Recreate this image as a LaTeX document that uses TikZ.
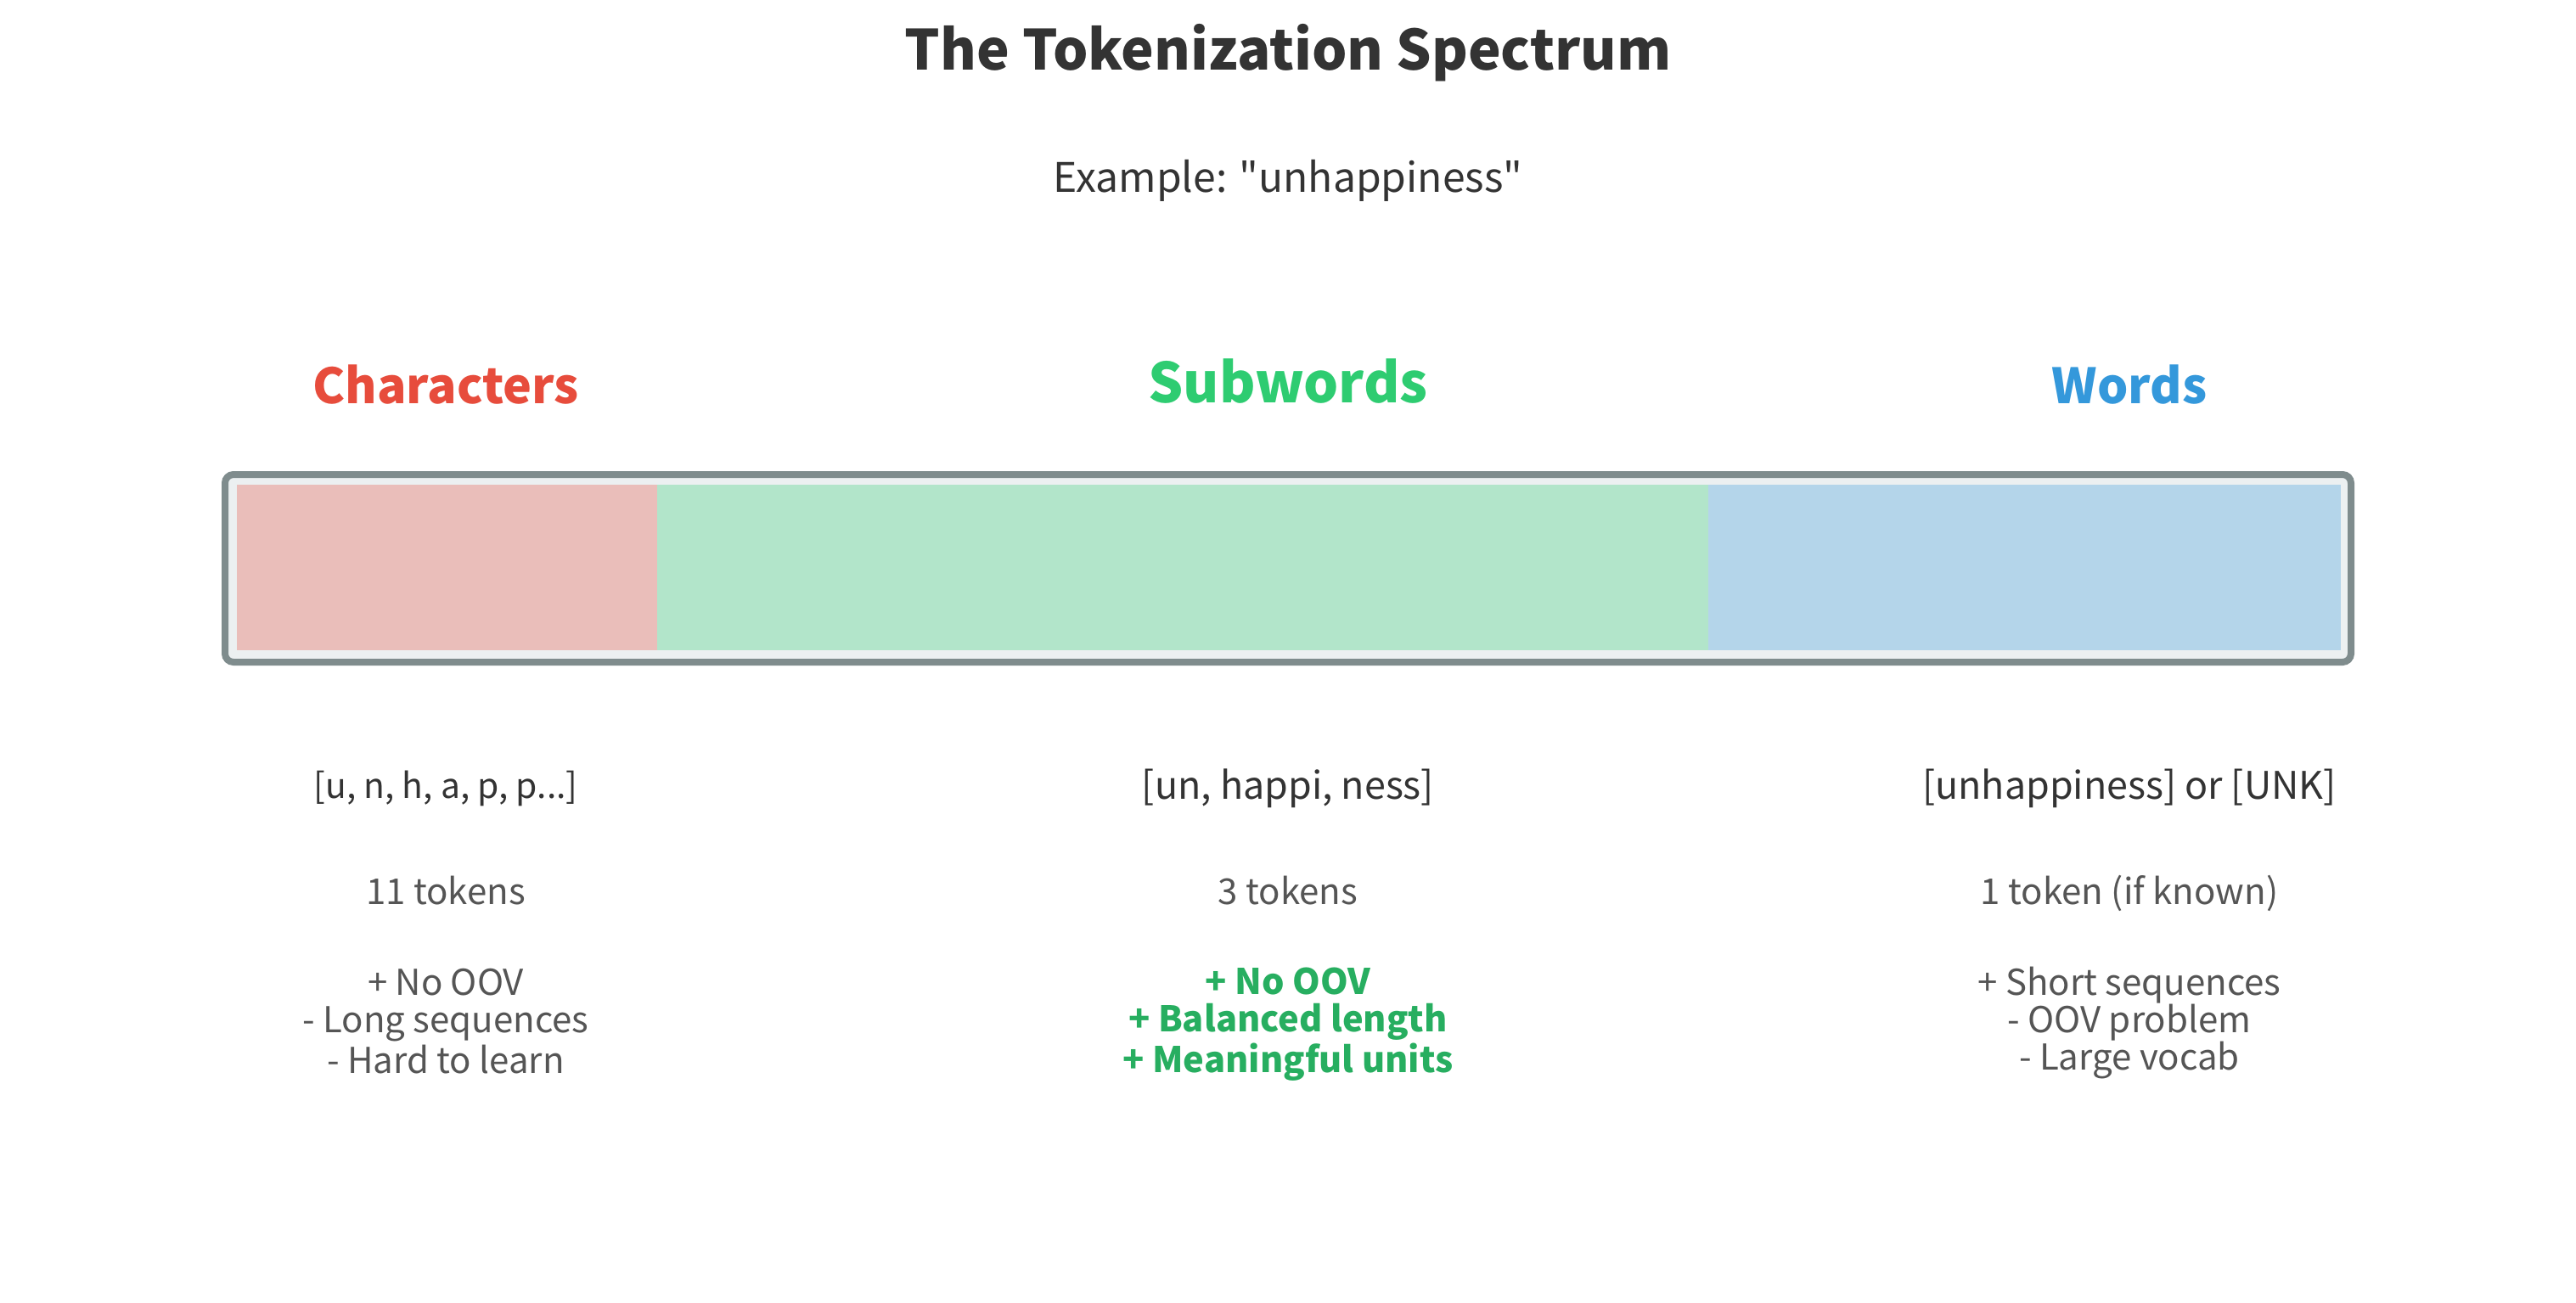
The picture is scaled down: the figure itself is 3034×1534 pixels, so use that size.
\documentclass[tikz,border=0pt]{standalone}
\usepackage{fontspec}
\setmainfont{Noto Sans CJK JP}[Ligatures=TeXOff]
\definecolor{titlec}{HTML}{333333}
\definecolor{subc}{HTML}{555555}
\definecolor{redc}{HTML}{E74C3C}
\definecolor{greenc}{HTML}{2ECC71}
\definecolor{dgreenc}{HTML}{27AE60}
\definecolor{bluec}{HTML}{3498DB}
\definecolor{framec}{HTML}{7F8C8D}
\definecolor{barbg}{HTML}{ECF0F1}
\tikzset{
  txt/.style={inner sep=0pt, anchor=center, align=center},
  head/.style={txt, font=\fontsize{14.3}{17}\selectfont\bfseries},
  toks/.style={txt, text=titlec, font=\fontsize{11.2}{13}\selectfont},
  cnt/.style={txt, text=subc, font=\fontsize{10.5}{12}\selectfont},
  pros/.style={txt, text=subc, font=\fontsize{10.5}{10.9}\selectfont},
  seg/.style={draw=none, fill opacity=0.3},
}
\begin{document}
\begin{tikzpicture}[x=0.25pt,y=-0.25pt]
\useasboundingbox[fill=white] (0,0) rectangle (3034,1534);
% title
\node[txt, text=titlec, font=\fontsize{16.3}{19}\selectfont\bfseries] (title) at (1517,62) {The Tokenization Spectrum};
\node[txt, text=titlec, font=\fontsize{12}{14}\selectfont] (example) at (1517,213) {Example: "unhappiness"};
% headings
\node[head, text=redc] (hchar) at (525,453) {Characters};
\node[head, text=greenc, font=\fontsize{16.2}{19}\selectfont\bfseries] (hsub) at (1517,449) {Subwords};
\node[head, text=bluec] (hword) at (2508,453) {Words};
% bar
\draw[framec, line width=2pt, fill=barbg, rounded corners=2.5pt] (265,559) rectangle (2769,780);
\fill[seg, fill=redc] (279,571) rectangle (774,766);
\fill[seg, fill=greenc] (774,571) rectangle (2012,766);
\fill[seg, fill=bluec] (2012,571) rectangle (2757,766);
% tokens
\node[toks, font=\fontsize{10.2}{12}\selectfont] (tchar) at (525,929) {[u, n, h, a, p, p...]};
\node[toks] (tsub) at (1517,929) {[un, happi, ness]};
\node[toks] (tword) at (2508,929) {[unhappiness] or [UNK]};
% counts
\node[cnt] (cchar) at (525,1049) {11 tokens};
\node[cnt] (csub) at (1517,1049) {3 tokens};
\node[cnt] (cword) at (2508,1052) {1 token (if known)};
% pros / cons
\node[pros] (pchar) at (525,1203) {+ No OOV\\- Long sequences\\- Hard to learn};
\node[pros, text=dgreenc, font=\fontsize{10.4}{10.9}\selectfont\bfseries] (psub) at (1517,1207) {+ No OOV\\+ Balanced length\\+ Meaningful units};
\node[pros] (pword) at (2508,1205) {+ Short sequences\\- OOV problem\\- Large vocab};
\end{tikzpicture}
\end{document}
